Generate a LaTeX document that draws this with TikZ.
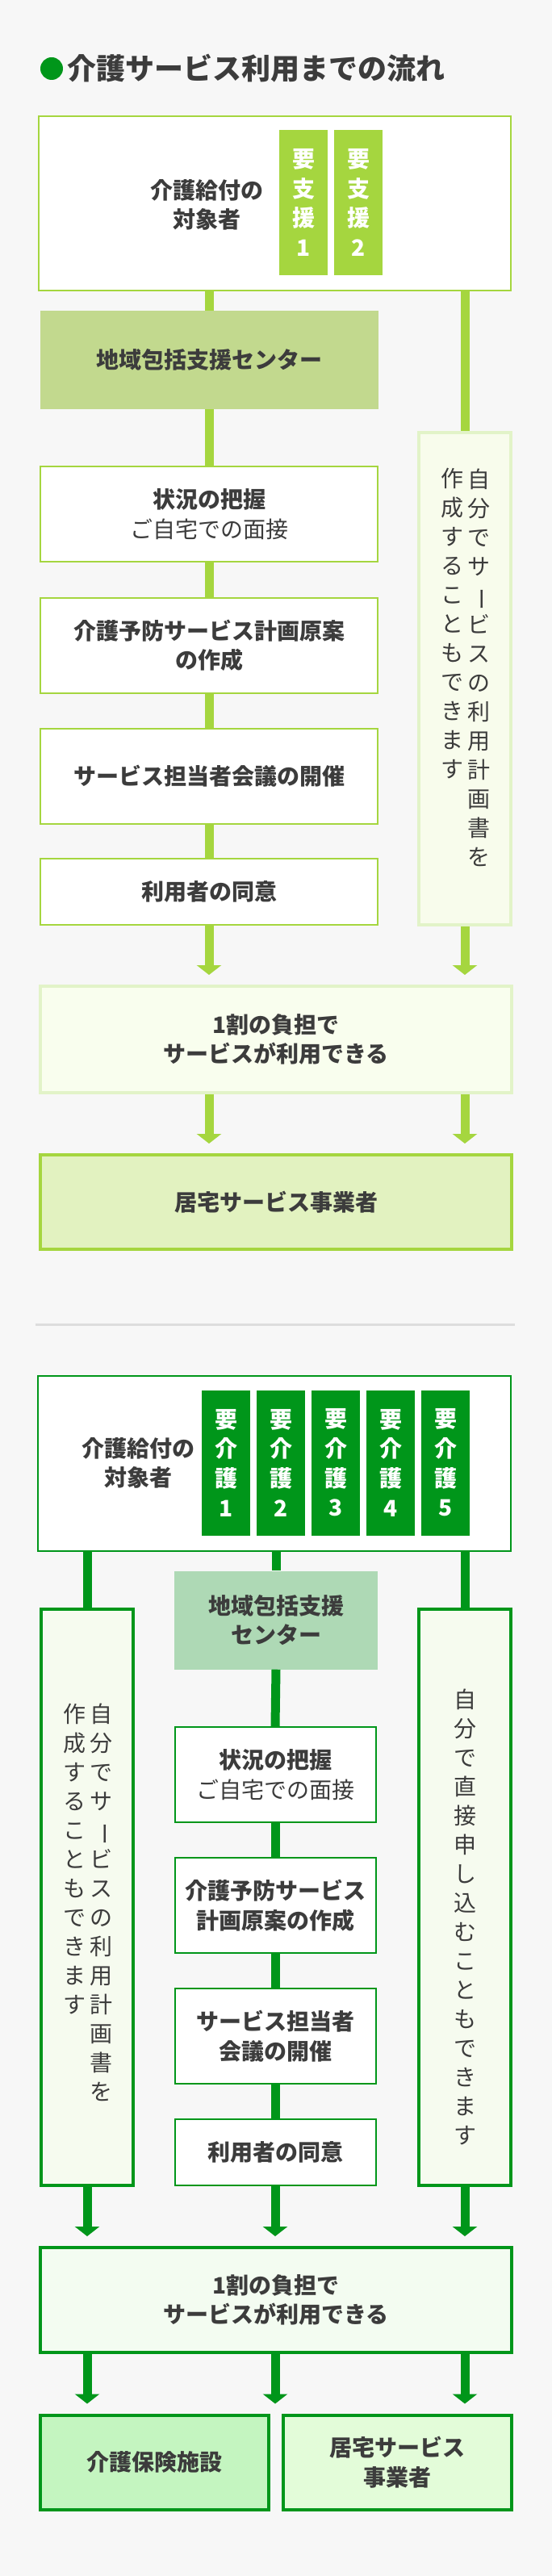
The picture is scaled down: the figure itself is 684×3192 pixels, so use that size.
\documentclass[tikz,border=0pt]{standalone}
\usepackage{fontspec}
\setmainfont{Noto Sans CJK JP}
\usepackage{graphicx}
\usepackage{xcolor}
\usetikzlibrary{positioning, arrows.meta}
\definecolor{pagebg}{HTML}{F7F7F7}
\definecolor{ink}{HTML}{3C3C3C}
\definecolor{lime}{HTML}{A5D63F}
\definecolor{olive}{HTML}{C2D98E}
\definecolor{limeedge}{HTML}{E2F3C8}
\definecolor{limepale}{HTML}{F8FCEC}
\definecolor{paypale}{HTML}{F9FEEE}
\definecolor{limefill}{HTML}{E2F2C0}
\definecolor{leaf}{HTML}{00961A}
\definecolor{sage}{HTML}{AED9B5}
\definecolor{mint}{HTML}{F6FBEF}
\definecolor{mintpay}{HTML}{F3FCF1}
\definecolor{facilityc}{HTML}{C4F5C0}
\definecolor{homesvc}{HTML}{E3FCD9}
\definecolor{rulegray}{HTML}{DDDDDD}
\newcommand{\bodyfont}{\fontsize{28pt}{36.7pt}\selectfont}
\newcommand{\vertfont}{\fontsize{28pt}{36pt}\selectfont}
\newcommand{\vbar}{\rotatebox[origin=c]{-90}{ー}}

\begin{document}
\begin{tikzpicture}[
  x=1pt, y=-1pt,
  every node/.style={text=ink, inner sep=0pt, align=center},
  flowbox/.style n args={2}{
    rectangle, draw=#1, fill=#2, line width=2pt,
    font=\bodyfont\bfseries
  },
  badge/.style n args={1}{
    rectangle, fill=#1, text=white, font=\bodyfont\bfseries,
    minimum width=60pt, minimum height=180pt
  },
  note/.style n args={2}{
    rectangle, draw=#1, fill=#2, line width=4pt,
    minimum width=114pt
  },
  vtext/.style={font=\vertfont},
  flowline/.style n args={1}{
    line width=11pt, draw=#1
  },
  flowarrow/.style n args={1}{
    line width=11pt, draw=#1, shorten >=12pt,
    -{Triangle[length=12pt, width=30pt]}
  }
]

\useasboundingbox (0,0) rectangle (684,3192);
\fill[pagebg] (0,0) rectangle (684,3192);

%% Column x-positions
\def\xA{259}
\def\xR{576}
\def\xM{342}
\def\xL{108}
\def\xB{341}

%% === TITLE ===
\node[circle, fill=leaf, minimum size=28pt] (dot) at (64,85) {};
\node[right=5pt of dot, font=\fontsize{36pt}{40pt}\selectfont\bfseries] (title)
  {介護サービス利用までの流れ};

%% === PART 1: 要支援 ===
\node[flowbox={lime}{white}, minimum width=585pt, minimum height=216pt] (targetA) at (340.4,252) {};
\node[font=\bodyfont\bfseries] (targetAlbl) at (256,254) {介護給付の\\対象者};
\node[badge={lime}] (shien1) at (376,251) {要\\支\\援\\1};
\node[badge={lime}] (shien2) at (444,251) {要\\支\\援\\2};

\node[rectangle, fill=olive, minimum width=419pt, minimum height=122pt,
      font=\bodyfont\bfseries] (centerA) at (\xA,446) {地域包括支援センター};

\node[flowbox={lime}{white}, minimum width=418pt, minimum height=118pt] (graspA) at (\xA,637)
  {状況の把握\\\mdseries ご自宅での面接};
\node[flowbox={lime}{white}, minimum width=418pt, minimum height=118pt] (planA) at (\xA,799.7)
  {介護予防サービス計画原案\\の作成};
\node[flowbox={lime}{white}, minimum width=418pt, minimum height=118pt] (meetA) at (\xA,961.7)
  {サービス担当者会議の開催};
\node[flowbox={lime}{white}, minimum width=418pt, minimum height=82pt] (agreeA) at (\xA,1105)
  {利用者の同意};

%% self-made plan (right)
\node[note={limeedge}{limepale}, minimum height=610pt] (noteA) at (\xR,841) {};
\node[vtext] (noteAr) at (593,827) {自\\分\\で\\サ\\\vbar\\ビ\\ス\\の\\利\\用\\計\\画\\書\\を};
\node[vtext] (noteAl) at (560,773) {作\\成\\す\\る\\こ\\と\\も\\で\\き\\ま\\す};

\node[flowbox={limeedge}{paypale}, line width=4pt, minimum width=584pt, minimum height=132pt]
  (payA) at (\xM,1288) {1割の負担で\\サービスが利用できる};
\node[flowbox={lime}{limefill}, line width=4pt, minimum width=584pt, minimum height=117pt]
  (homeA) at (\xM,1489.5) {居宅サービス事業者};

%% connectors
\draw[flowline={lime}] (centerA.north |- targetA.south) -- (centerA.north);
\draw[flowline={lime}] (centerA.south) -- (graspA.north);
\draw[flowline={lime}] (graspA.south) -- (planA.north);
\draw[flowline={lime}] (planA.south) -- (meetA.north);
\draw[flowline={lime}] (meetA.south) -- (agreeA.north);
\draw[flowline={lime}] (noteA.north |- targetA.south) -- (noteA.north);
\draw[flowarrow={lime}] (agreeA.south) -- (agreeA.south |- payA.north);
\draw[flowarrow={lime}] (noteA.south) -- (noteA.south |- payA.north);
\draw[flowarrow={lime}] (agreeA.south |- payA.south) -- (agreeA.south |- homeA.north);
\draw[flowarrow={lime}] (noteA.south |- payA.south) -- (noteA.south |- homeA.north);

%% === SEPARATOR ===
\draw[rulegray, line width=3pt] (43.6,1641) -- (638,1641);

%% === PART 2: 要介護 ===
\node[flowbox={leaf}{white}, minimum width=586pt, minimum height=217pt] (targetB) at (340,1813.5) {};
\node[font=\bodyfont\bfseries] (targetBlbl) at (171.5,1813) {介護給付の\\対象者};
\node[badge={leaf}] (kaigo1) at (280,1812.5) {要\\介\\護\\1};
\node[badge={leaf}] (kaigo2) at (348,1812.5) {要\\介\\護\\2};
\node[badge={leaf}] (kaigo3) at (416,1812.5) {要\\介\\護\\3};
\node[badge={leaf}] (kaigo4) at (484,1812.5) {要\\介\\護\\4};
\node[badge={leaf}] (kaigo5) at (552,1812.5) {要\\介\\護\\5};

%% self-made plan (left)
\node[note={leaf}{mint}, minimum height=714pt] (noteBL) at (\xL,2351) {};
\node[vtext] (noteBLr) at (125.6,2357.3) {自\\分\\で\\サ\\\vbar\\ビ\\ス\\の\\利\\用\\計\\画\\書\\を};
\node[vtext] (noteBLl) at (92.5,2303.3) {作\\成\\す\\る\\こ\\と\\も\\で\\き\\ま\\す};

\node[rectangle, fill=sage, minimum width=252pt, minimum height=122pt,
      font=\bodyfont\bfseries] (centerB) at (\xM,2007.5) {地域包括支援\\センター};

\node[flowbox={leaf}{white}, minimum width=249pt, minimum height=118pt] (graspB) at (\xB,2199)
  {状況の把握\\\mdseries ご自宅での面接};
\node[flowbox={leaf}{white}, minimum width=249pt, minimum height=118pt] (planB) at (\xB,2361)
  {介護予防サービス\\計画原案の作成};
\node[flowbox={leaf}{white}, minimum width=249pt, minimum height=118pt] (meetB) at (\xB,2523.3)
  {サービス担当者\\会議の開催};
\node[flowbox={leaf}{white}, minimum width=249pt, minimum height=82pt] (agreeB) at (\xB,2667)
  {利用者の同意};

%% direct application (right)
\node[note={leaf}{mint}, minimum height=714pt] (noteBR) at (\xR,2351) {};
\node[vtext] (noteBRt) at (\xR,2375) {自\\分\\で\\直\\接\\申\\し\\込\\む\\こ\\と\\も\\で\\き\\ま\\す};

\node[flowbox={leaf}{mintpay}, line width=4pt, minimum width=584pt, minimum height=130pt]
  (payB) at (\xM,2850) {1割の負担で\\サービスが利用できる};
\node[flowbox={leaf}{facilityc}, line width=4pt, minimum width=282.6pt, minimum height=117pt]
  (facility) at (191.3,3051) {介護保険施設};
\node[flowbox={leaf}{homesvc}, line width=4pt, minimum width=283pt, minimum height=117pt]
  (homeB) at (492,3051) {居宅サービス\\事業者};

%% connectors
\draw[flowline={leaf}] (noteBL.north |- targetB.south) -- (noteBL.north);
\draw[flowline={leaf}] (centerB.north |- targetB.south) -- (centerB.north);
\draw[flowline={leaf}] (noteBR.north |- targetB.south) -- (noteBR.north);
\draw[flowline={leaf}] (centerB.south) -- (graspB.north);
\draw[flowline={leaf}] (graspB.south) -- (planB.north);
\draw[flowline={leaf}] (planB.south) -- (meetB.north);
\draw[flowline={leaf}] (meetB.south) -- (agreeB.north);
\draw[flowarrow={leaf}] (noteBL.south) -- (noteBL.south |- payB.north);
\draw[flowarrow={leaf}] (agreeB.south) -- (agreeB.south |- payB.north);
\draw[flowarrow={leaf}] (noteBR.south) -- (noteBR.south |- payB.north);
\draw[flowarrow={leaf}] (noteBL.south |- payB.south) -- (noteBL.south |- facility.north);
\draw[flowarrow={leaf}] (agreeB.south |- payB.south) -- (agreeB.south |- facility.north);
\draw[flowarrow={leaf}] (noteBR.south |- payB.south) -- (noteBR.south |- homeB.north);

\end{tikzpicture}
\end{document}
